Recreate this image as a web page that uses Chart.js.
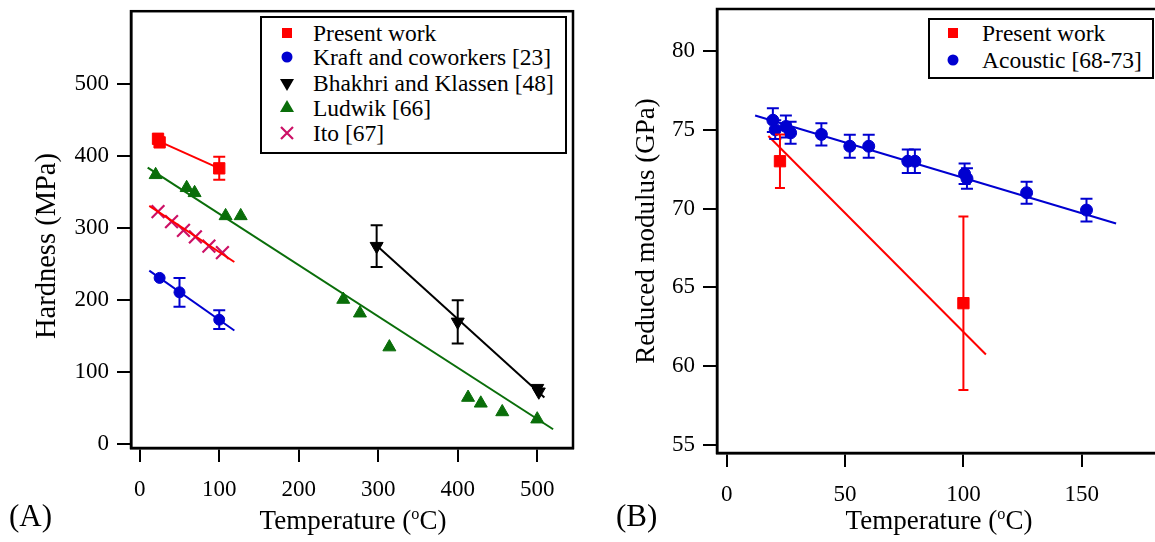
<!DOCTYPE html>
<html>
<head>
  <title>Hardness and reduced modulus vs temperature</title>
  <script src="https://cdn.jsdelivr.net/npm/chart.js@4.4.0/dist/chart.umd.min.js"></script>

  <style>
    body {
      margin: 0;
      background: #fff;
    }

    #page {
      position: relative;
      width: 1155px;
      height: 542px;
      overflow: hidden;
      font-family: 'Liberation Serif', 'Times New Roman', serif;
      color: #000;
    }

    canvas {
      position: absolute;
      top: 0;
    }

    .legend {
      position: absolute;
      box-sizing: border-box;
      border: 2px solid #000;
      background: #fff;
      font-size: 23.5px;
    }

    .row {
      position: absolute;
      left: 0;
      height: 26px;
      line-height: 26px;
      white-space: nowrap;
    }

    .row svg {
      position: absolute;
      top: 3px;
    }

    .row span {
      position: absolute;
    }

    .xtitle {
      position: absolute;
      top: 505px;
      width: 300px;
      text-align: center;
      font-size: 27px;
      line-height: 30px;
      white-space: nowrap;
    }

    .xtitle sup {
      font-size: 60%;
      line-height: 0;
    }

    .ytitle {
      position: absolute;
      transform: translate(-50%, -50%) rotate(-90deg);
      font-size: 28.5px;
      line-height: 32px;
      white-space: nowrap;
    }

    .panel {
      position: absolute;
      top: 500px;
      font-size: 31px;
      line-height: 32px;
    }
  </style>
</head>
<body>

<div id="page">
  <canvas id="hardChart" width="600" height="542" style="left:0"></canvas>
  <canvas id="modChart" width="600" height="542" style="left:600px"></canvas>

  <div class="legend" style="left:260px;top:16px;width:307px;height:138px">
    <div class="row" style="top:2px">
      <svg width="20" height="20" style="left:15px"><rect x="5" y="5" width="10" height="10" fill="#ff0000"/></svg>
      <span style="left:51px">Present work</span>
    </div>
    <div class="row" style="top:26px">
      <svg width="20" height="20" style="left:15px"><circle cx="10" cy="10" r="5.5" fill="#0000d0"/></svg>
      <span style="left:51px">Kraft and coworkers [23]</span>
    </div>
    <div class="row" style="top:52px">
      <svg width="20" height="20" style="left:15px"><polygon points="3,6 17,6 10,18" fill="#000"/></svg>
      <span style="left:51px">Bhakhri and Klassen [48]</span>
    </div>
    <div class="row" style="top:77px">
      <svg width="20" height="20" style="left:15px"><polygon points="10,2 17,14 3,14" fill="#0a6e0a"/></svg>
      <span style="left:51px">Ludwik [66]</span>
    </div>
    <div class="row" style="top:102px">
      <svg width="20" height="20" style="left:15px"><path d="M4 4 L16 16 M16 4 L4 16" stroke="#cc1166" stroke-width="2.2"/></svg>
      <span style="left:51px">Ito [67]</span>
    </div>
  </div>

  <div class="legend" style="left:928px;top:18px;width:226px;height:61px">
    <div class="row" style="top:0px">
      <svg width="20" height="20" style="left:13px"><rect x="5" y="5" width="10" height="10" fill="#ff0000"/></svg>
      <span style="left:52px">Present work</span>
    </div>
    <div class="row" style="top:27px">
      <svg width="20" height="20" style="left:13px"><circle cx="10" cy="10" r="5.5" fill="#0000d0"/></svg>
      <span style="left:52px">Acoustic [68-73]</span>
    </div>
  </div>

  <div class="ytitle" style="left:46px;top:246px">Hardness (MPa)</div>
  <div class="xtitle" style="left:203px">Temperature (<sup>o</sup>C)</div>
  <div class="xtitle" style="left:789px">Temperature (<sup>o</sup>C)</div>
  <div class="panel" style="left:9px">(A)</div>
  <div class="panel" style="left:616px">(B)</div>
</div>

<script>
  // tick labels
  const hardTicks = [0, 100, 200, 300, 400, 500];
  const hardTempTicks = [0, 100, 200, 300, 400, 500];
  const modTicks = [55, 60, 65, 70, 75, 80];
  const modTempTicks = [0, 50, 100, 150];

  // (A) hardness, MPa
  const presentT = [23, 25, 100];
  const presentH = [424, 419, 383];
  const presentErr = [0, 0, 16];
  const presentFitT = [23, 100];
  const presentFitH = [421, 383];

  const kraftT = [25, 50, 100];
  const kraftH = [231, 211, 173];
  const kraftErr = [0, 20, 13];
  const kraftFitT = [12, 119];
  const kraftFitH = [241, 158];

  const bhakhriT = [298, 400, 500, 502];
  const bhakhriH = [275, 170, 78, 73];
  const bhakhriErr = [29, 30, 0, 0];
  const bhakhriFitT = [298, 509];
  const bhakhriFitH = [276, 65];

  const ludwikT = [20, 59, 69, 108, 127, 256, 277, 314, 413, 429, 456, 500];
  const ludwikH = [374, 356, 349, 317, 317, 201, 182, 135, 65, 57, 45, 35];
  const ludwikFitT = [10, 520];
  const ludwikFitH = [384, 21];

  const itoT = [23, 40, 55, 70, 87, 104];
  const itoH = [323, 309, 297, 288, 275, 266];
  const itoFitT = [12, 119];
  const itoFitH = [331, 253];

  // (B) reduced modulus, GPa
  const pwT = [22.5, 100];
  const pwE = [73.0, 64.0];
  const pwErr = [1.7, 5.5];
  const pwFitT = [17.6, 109.5];
  const pwFitE = [74.6, 60.75];

  const acT = [19.5, 20.5, 25, 27, 40, 52, 60, 76.5, 79.5, 100.5, 101.5, 126.7, 152];
  const acE = [75.6, 75.0, 75.2, 74.8, 74.7, 73.95, 73.95, 73.0, 73.0, 72.2, 71.9, 71.0, 69.9];
  const acErr = [0.75, 0.6, 0.7, 0.7, 0.7, 0.73, 0.73, 0.74, 0.74, 0.65, 0.65, 0.7, 0.72];
  const acFitT = [12, 164.5];
  const acFitE = [75.9, 69.05];

  const RED = '#ff0000', BLUE = '#0000d0', GREEN = '#0a6e0a', CRIMSON = '#cc1166';
  const SERIF = "'Liberation Serif', 'Times New Roman', serif";

  function pts(xs, ys) {
    return xs.map((x, i) => ({x: x, y: ys[i]}));
  }

  function markers(xs, ys, color, style, radius, errs, order, cap) {
    return {
      data: pts(xs, ys),
      pointStyle: style,
      pointRadius: radius,
      pointBackgroundColor: color,
      pointBorderColor: color,
      pointBorderWidth: style === 'crossRot' ? 2.2 : 1,
      borderColor: color,
      errors: errs,
      capHalf: cap || 6,
      order: order || 0
    };
  }

  function fitLine(xs, ys, color, order) {
    return {
      data: pts(xs, ys),
      showLine: true,
      borderColor: color,
      borderWidth: 2,
      pointRadius: 0,
      fill: false,
      order: order || 0
    };
  }

  function axis(min, max, tickValues, size, pad, title) {
    return {
      type: 'linear',
      min: min,
      max: max,
      afterBuildTicks: s => { s.ticks = tickValues.map(v => ({value: v})); },
      afterFit: s => {
        if (s.isHorizontal()) s.height = size; else s.width = size;
        s.paddingTop = 0; s.paddingBottom = 0;
        s.paddingLeft = 0; s.paddingRight = 0;
      },
      border: {display: true, color: '#000', width: 2.5},
      grid: {drawOnChartArea: false, color: '#000', lineWidth: 2, tickLength: 14},
      ticks: {color: '#000', font: {family: SERIF, size: 23}, padding: pad},
      title: title ? {
        display: true, text: title, color: '#000',
        font: {family: SERIF, size: 27}, padding: {top: 31, bottom: 0}
      } : {display: false}
    };
  }

  // box round the plot area
  const frame = {
    id: 'frame',
    afterDraw(chart) {
      const a = chart.chartArea, ctx = chart.ctx;
      ctx.save();
      ctx.strokeStyle = '#000';
      ctx.lineWidth = 2.5;
      ctx.strokeRect(a.left, a.top, a.right - a.left, a.bottom - a.top);
      ctx.restore();
    }
  };

  // vertical error bars with caps, from each dataset's errors array
  const errorBars = {
    id: 'errorBars',
    afterDatasetsDraw(chart) {
      const ctx = chart.ctx, xs = chart.scales.x, ys = chart.scales.y;
      const sets = chart.data.datasets.slice().sort((a, b) => (b.order || 0) - (a.order || 0));
      sets.forEach(ds => {
        if (!ds.errors) return;
        ctx.save();
        ctx.strokeStyle = ds.borderColor;
        ctx.lineWidth = 2;
        ds.data.forEach((p, i) => {
          const e = ds.errors[i];
          if (!e) return;
          const px = xs.getPixelForValue(p.x);
          const top = ys.getPixelForValue(p.y + e);
          const bot = ys.getPixelForValue(p.y - e);
          const w = ds.capHalf;
          ctx.beginPath();
          ctx.moveTo(px, top); ctx.lineTo(px, bot);
          ctx.moveTo(px - w, top); ctx.lineTo(px + w, top);
          ctx.moveTo(px - w, bot); ctx.lineTo(px + w, bot);
          ctx.stroke();
        });
        ctx.restore();
      });
    }
  };

  const common = {
    type: 'scatter',
    plugins: [errorBars, frame]
  };

  new Chart(document.getElementById('hardChart'), {
    ...common,
    data: {
      datasets: [
        fitLine(presentFitT, presentFitH, RED),
        markers(presentT, presentH, RED, 'rect', 8, presentErr),
        fitLine(kraftFitT, kraftFitH, BLUE),
        markers(kraftT, kraftH, BLUE, 'circle', 5.5, kraftErr),
        fitLine(bhakhriFitT, bhakhriFitH, '#000'),
        Object.assign(markers(bhakhriT, bhakhriH, '#000', 'triangle', 7.5, bhakhriErr), {pointRotation: 180}),
        fitLine(ludwikFitT, ludwikFitH, GREEN),
        markers(ludwikT, ludwikH, GREEN, 'triangle', 7.5),
        fitLine(itoFitT, itoFitH, RED),
        markers(itoT, itoH, CRIMSON, 'crossRot', 9)
      ]
    },
    options: {
      responsive: false,
      animation: false,
      events: [],
      layout: {padding: {left: 0, top: 9, right: 27, bottom: 0}},
      plugins: {legend: {display: false}, tooltip: {enabled: false}},
      scales: {
        x: axis(-11, 545, hardTempTicks, 94, 14),
        y: axis(-5, 601, hardTicks, 131, 8)
      }
    }
  });

  new Chart(document.getElementById('modChart'), {
    ...common,
    data: {
      datasets: [
        fitLine(pwFitT, pwFitE, RED, 0),
        markers(pwT, pwE, RED, 'rect', 8, pwErr, 0, 5),
        fitLine(acFitT, acFitE, BLUE, 1),
        markers(acT, acE, BLUE, 'circle', 6, acErr, 1)
      ]
    },
    options: {
      responsive: false,
      animation: false,
      events: [],
      layout: {padding: {left: 0, top: 9, right: 38, bottom: 0}},
      plugins: {legend: {display: false}, tooltip: {enabled: false}},
      scales: {
        x: axis(-4.1, 183.9, modTempTicks, 89, 14),
        y: axis(54.5, 82.65, modTicks, 117, 8, 'Reduced modulus (GPa)')
      }
    }
  });
</script>

</body>
</html>
